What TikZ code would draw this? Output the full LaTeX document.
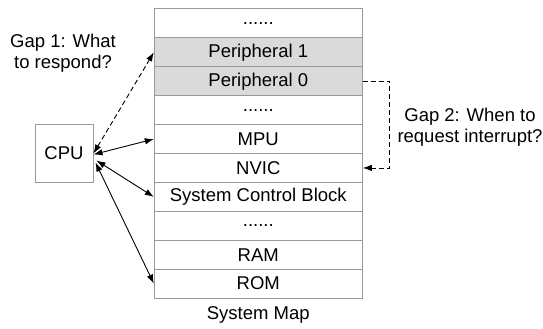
\documentclass[tikz,border=0pt]{standalone}
\usepackage{fontspec}
\setmainfont{Liberation Sans}
\usetikzlibrary{arrows.meta}
\definecolor{bordergray}{HTML}{999999}
\definecolor{perfill}{HTML}{DADADA}
\begin{document}
\begin{tikzpicture}[x=1pt,y=-1pt,
  font=\fontsize{18.5}{20.8}\selectfont,
  row/.style={draw=bordergray,line width=1pt,minimum width=208pt,minimum height=28.9pt,inner sep=0pt,anchor=center,fill=white},
  perrow/.style={row,fill=perfill},
  cpubox/.style={draw=bordergray,line width=1pt,minimum width=58pt,minimum height=58pt,inner sep=0pt},
  arr/.style={line width=0.9pt,{Latex[length=9pt,width=6.5pt]}-{Latex[length=9pt,width=6.5pt]}},
  darr/.style={line width=0.9pt,dash pattern=on 5pt off 3pt},
  lbl/.style={align=center,inner sep=0pt}]
\useasboundingbox (0,0) rectangle (543,329);
\node[row]    (r0) at (258.3,23.45) {......};
\node[perrow] (p1) at (258.3,52.35) {Peripheral 1};
\node[perrow] (p0) at (258.3,81.25) {Peripheral 0};
\node[row]    (r3) at (258.3,110.15) {......};
\node[row]    (mpu) at (258.3,139.05) {MPU};
\node[row]    (nvic) at (258.3,167.95) {NVIC};
\node[row]    (scb) at (258.3,196.85) {System Control Block};
\node[row]    (r7) at (258.3,225.75) {......};
\node[row]    (ram) at (258.3,254.65) {RAM};
\node[row]    (rom) at (258.3,283.55) {ROM};
\node[cpubox] (cpu) at (64,153.5) {CPU};
\node[lbl] (gap1) at (63,53) {Gap 1: What\\to respond?};
\node[lbl] (gap2) at (470,127) {Gap 2: When to\\request interrupt?};
\node[lbl] (map) at (258.3,315) {System Map};
\draw[darr,{Latex[length=9pt,width=6.5pt]}-{Latex[length=9pt,width=6.5pt]}] (cpu.east) -- (p1.west);
\draw[arr] ([yshift=-1pt]cpu.east) -- (mpu.west);
\draw[arr] ([xshift=3pt,yshift=-7pt]cpu.east) -- (scb.west);
\draw[arr] ([xshift=2pt,yshift=-9pt]cpu.east) -- (rom.west);
\draw[darr,-{Latex[length=9pt,width=6.5pt]}] (p0.east) -- ++(27,0) |- (nvic.east);
\end{tikzpicture}
\end{document}
